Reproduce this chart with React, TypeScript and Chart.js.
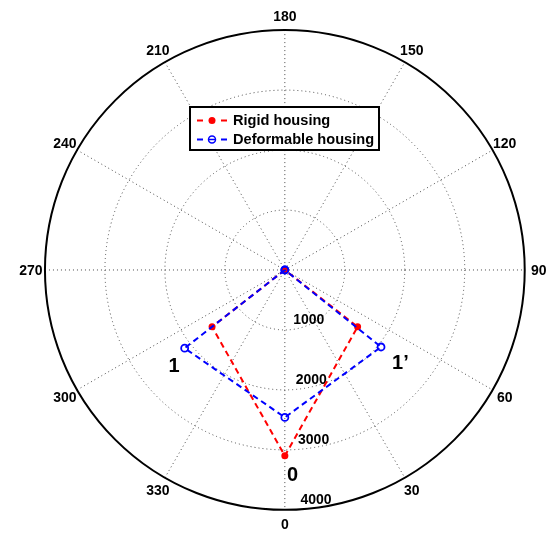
import React, { useEffect, useRef } from "react";
import { Chart, registerables } from "chart.js";

Chart.register(...registerables);

// Polar data: angle in degrees (0 at bottom, counter-clockwise), radius in units
const rigidTheta = [0, 308, 0, 52, 0];
const rigidR = [0, 1540, 3100, 1540, 0];
const deformTheta = [0, 308, 0, 51.3, 0];
const deformR = [0, 2120, 2460, 2055, 0];

const seriesNames = ["Rigid housing", "Deformable housing"];
const radialTicks = [1000, 2000, 3000, 4000];
const angleTicks = [0, 30, 60, 90, 120, 150, 180, 210, 240, 270, 300, 330];
const pointLabels = [
  { text: "1", theta: 310.3, r: 2424 },
  { text: "1\u2019", theta: 51.5, r: 2463 },
  { text: "0", theta: 2.2, r: 3398 },
];

const RMAX = 4000;
const FONT = "'Liberation Sans', Arial, sans-serif";

function toXY(theta: number[], r: number[]) {
  return theta.map((t, i) => {
    const a = (t * Math.PI) / 180;
    return { x: r[i] * Math.sin(a), y: -r[i] * Math.cos(a) };
  });
}

const polarGrid = {
  id: "polarGrid",
  beforeDatasetsDraw(chart: any) {
    const { ctx, scales } = chart;
    const xs = scales.x;
    const ys = scales.y;
    const cx = xs.getPixelForValue(0);
    const cy = ys.getPixelForValue(0);
    const R = xs.getPixelForValue(RMAX) - cx;
    ctx.save();
    // dotted rings
    ctx.strokeStyle = "#4a4a4a";
    ctx.lineWidth = 1;
    ctx.setLineDash([1, 3]);
    radialTicks.slice(0, -1).forEach((v) => {
      ctx.beginPath();
      ctx.arc(cx, cy, (v / RMAX) * R, 0, Math.PI * 2);
      ctx.stroke();
    });
    // spokes
    for (let t = 0; t < 180; t += 30) {
      const a = (t * Math.PI) / 180;
      ctx.beginPath();
      ctx.moveTo(cx - R * Math.sin(a), cy - R * Math.cos(a));
      ctx.lineTo(cx + R * Math.sin(a), cy + R * Math.cos(a));
      ctx.stroke();
    }
    ctx.setLineDash([]);
    // outer circle
    ctx.strokeStyle = "#000";
    ctx.lineWidth = 2;
    ctx.beginPath();
    ctx.arc(cx, cy, R, 0, Math.PI * 2);
    ctx.stroke();
    // angle labels
    ctx.fillStyle = "#000";
    ctx.font = `bold 14px ${FONT}`;
    ctx.textAlign = "center";
    ctx.textBaseline = "middle";
    angleTicks.forEach((t) => {
      const a = (t * Math.PI) / 180;
      const rl = R + 14;
      ctx.fillText(String(t), cx + rl * Math.sin(a), cy + rl * Math.cos(a) + 1);
    });
    // radial labels
    ctx.textAlign = "left";
    radialTicks.forEach((v) => {
      const rp = (v / RMAX) * R;
      ctx.fillText(String(v), cx + 6 + rp * 0.04, cy + rp - 10);
    });
    // point annotations
    ctx.font = `bold 20px ${FONT}`;
    ctx.textAlign = "center";
    pointLabels.forEach((p) => {
      const a = (p.theta * Math.PI) / 180;
      const rp = (p.r / RMAX) * R;
      ctx.fillText(p.text, cx + rp * Math.sin(a), cy + rp * Math.cos(a) + 2);
    });
    ctx.restore();
  },
  afterDraw(chart: any) {
    const { ctx } = chart;
    ctx.save();
    const bx = 190, by = 107, bw = 189, bh = 43;
    ctx.fillStyle = "#fff";
    ctx.fillRect(bx, by, bw, bh);
    ctx.strokeStyle = "#000";
    ctx.lineWidth = 2;
    ctx.strokeRect(bx, by, bw, bh);
    const entries = [
      { color: "#ff0000", filled: true, y: 120.5 },
      { color: "#0000ff", filled: false, y: 139.5 },
    ];
    entries.forEach((e, i) => {
      ctx.strokeStyle = e.color;
      ctx.lineWidth = 2;
      ctx.setLineDash([6, 18]);
      ctx.beginPath();
      ctx.moveTo(197, e.y);
      ctx.lineTo(228, e.y);
      ctx.stroke();
      ctx.setLineDash([]);
      ctx.beginPath();
      ctx.arc(212, e.y, 3.5, 0, Math.PI * 2);
      if (e.filled) {
        ctx.fillStyle = e.color;
        ctx.fill();
      } else {
        ctx.lineWidth = 1.5;
        ctx.stroke();
        ctx.beginPath();
        ctx.moveTo(209, e.y);
        ctx.lineTo(215, e.y);
        ctx.stroke();
      }
      ctx.fillStyle = "#000";
      ctx.font = `bold 14.6px ${FONT}`;
      ctx.textAlign = "left";
      ctx.textBaseline = "middle";
      ctx.fillText(seriesNames[i], 233, e.y + 0.5);
    });
    ctx.restore();
  },
};

export default function App() {
  const ref = useRef<HTMLCanvasElement | null>(null);
  useEffect(() => {
    if (!ref.current) return;
    const chart = new Chart(ref.current, {
      type: "scatter",
      data: {
        datasets: [
          {
            label: seriesNames[1],
            data: toXY(deformTheta, deformR),
            showLine: true,
            borderColor: "#0000ff",
            borderWidth: 2,
            borderDash: [6, 4],
            pointRadius: 3.5,
            pointBorderWidth: 1.8,
            pointBackgroundColor: "rgba(0,0,0,0)",
            pointBorderColor: "#0000ff",
          },
          {
            label: seriesNames[0],
            data: toXY(rigidTheta, rigidR),
            showLine: true,
            borderColor: "#ff0000",
            borderWidth: 2,
            borderDash: [6, 4],
            pointRadius: 3.5,
            pointBorderWidth: 0,
            pointBackgroundColor: "#ff0000",
            pointBorderColor: "#ff0000",
          },
        ],
      },
      options: {
        animation: false,
        responsive: true,
        maintainAspectRatio: false,
        layout: { padding: 0 },
        plugins: { legend: { display: false }, tooltip: { enabled: false } },
        scales: {
          x: { type: "linear", display: false, min: -4653.06, max: 4408.16 },
          y: { type: "linear", display: false, min: -4375.5, max: 4408.16 },
        },
      },
      plugins: [polarGrid],
    });
    return () => chart.destroy();
  }, []);
  return (
    <div style={{ position: "fixed", left: 0, top: 0, width: 555, height: 538, background: "#fff" }}>
      <canvas ref={ref} />
    </div>
  );
}
